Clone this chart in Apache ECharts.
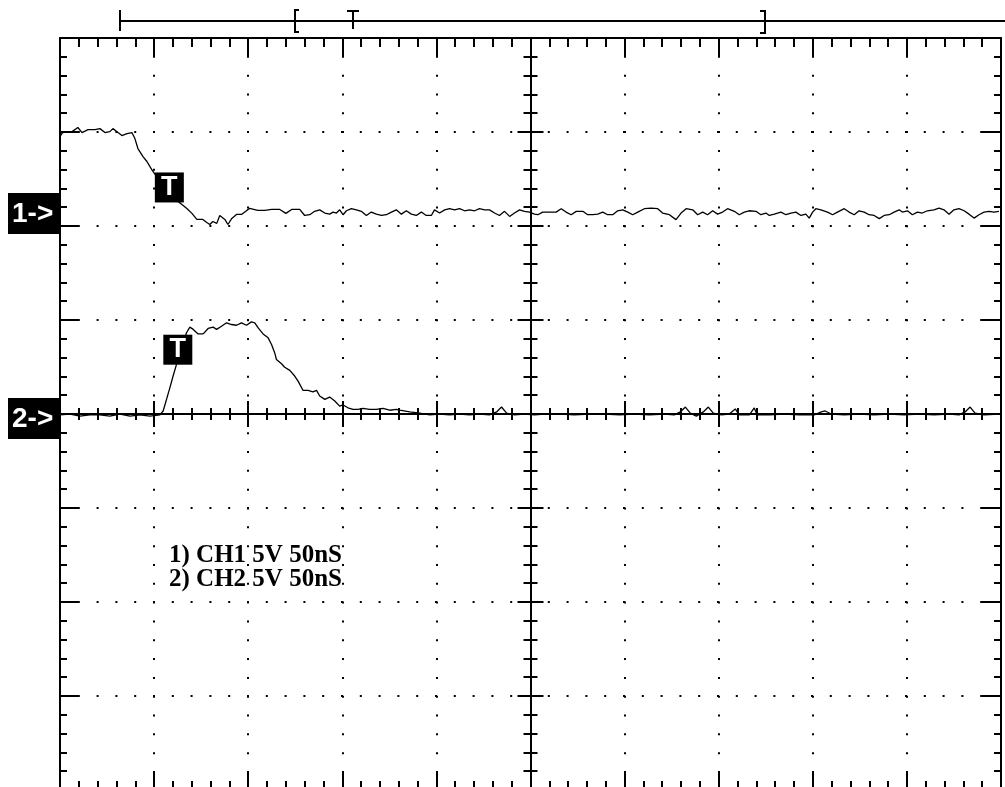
<!DOCTYPE html>
<html><head><meta charset="utf-8">
<script src="https://cdn.jsdelivr.net/npm/echarts@6/dist/echarts.min.js"></script>
<style>html,body{margin:0;padding:0;background:#fff}#c{width:1005px;height:787px}</style>
</head><body><div id="c"></div>
<script>
// time relative to screen centre (ns), 50 ns/div ; voltage relative to screen centre (V), 5 V/div
const timeRange = [-250, 250];
const voltRange = [-20, 20];
const timeDiv = 50;
const voltDiv = 5;

const ch1 = [[-250,14.76],[-248.9,14.93],[-247.4,15.02],[-243.6,15.02],[-240.5,15.24],[-238.3,14.97],[-235.1,15.13],[-231.4,15.13],[-228.8,15.18],[-226.1,14.97],[-223.5,15.02],[-221.9,15.18],[-219.2,14.97],[-217.1,14.81],[-214.4,14.91],[-211.8,14.97],[-210.2,14.65],[-208.6,14.12],[-205.9,13.69],[-203.8,13.43],[-202.2,13.16],[-200.6,12.90],[-196.9,12.37],[-191.6,11.73],[-187.4,11.31],[-185.2,11.14],[-182.6,10.93],[-179.9,10.67],[-177.3,10.35],[-174.1,10.35],[-172.0,10.19],[-170.4,10.08],[-168.8,10.24],[-166.7,10.14],[-165.1,10.56],[-162.4,10.35],[-160.8,10.08],[-158.7,10.40],[-156.1,10.62],[-153.4,10.62],[-150.7,10.83],[-149.2,10.94],[-144.9,10.83],[-141.2,10.83],[-137.5,10.88],[-133.2,10.88],[-130.0,10.67],[-126.9,10.88],[-122.6,10.88],
[-120.0,10.56],[-117.3,10.60],[-114.7,10.78],[-112.0,10.86],[-109.3,10.69],[-106.7,10.63],[-104.9,10.74],[-103.1,10.69],[-101.4,10.86],[-99.6,10.60],[-97.8,10.81],[-95.2,10.92],[-92.5,10.86],[-89.9,10.78],[-87.2,10.56],[-84.6,10.74],[-81.9,10.63],[-79.2,10.56],[-76.6,10.60],[-73.9,10.74],[-71.3,10.86],[-68.6,10.63],[-66.0,10.81],[-63.3,10.63],[-60.7,10.56],[-58.0,10.74],[-55.4,10.56],[-52.7,10.56],[-51.0,10.86],[-48.3,10.69],[-45.6,10.86],[-43.0,10.92],[-40.3,10.86],[-37.7,10.92],[-35.0,10.81],[-32.4,10.86],[-29.7,10.81],[-27.1,10.92],[-24.4,10.86],[-21.8,10.86],[-19.1,10.69],[-16.5,10.56],[-13.8,10.78],[-11.1,10.51],[-8.5,10.69],[-5.8,10.86],[-3.2,10.78],[-0.5,10.74],[2.1,10.63],
[3.9,10.60],[6.5,10.74],[10.1,10.74],[13.6,10.74],[16.3,10.92],[18.9,10.74],[21.6,10.60],[24.3,10.78],[27.8,10.78],[30.4,10.60],[33.1,10.60],[35.7,10.63],[38.4,10.74],[41.0,10.60],[43.7,10.60],[46.3,10.81],[49.0,10.86],[51.7,10.74],[54.3,10.60],[57.0,10.74],[60.5,10.92],[64.1,10.95],[67.6,10.92],[70.2,10.69],[73.8,10.60],[77.3,10.34],[80.0,10.69],[82.7,10.92],[86.2,10.86],[88.8,10.60],[91.5,10.74],[94.1,10.60],[96.8,10.81],[99.4,10.63],[102.1,10.74],[104.7,10.92],[108.3,10.78],[110.9,10.60],[113.6,10.74],[116.2,10.81],[119.8,10.78],[122.4,10.60],[125.1,10.69],
[126.9,10.56],[129.5,10.63],[133.1,10.74],[135.7,10.60],[138.4,10.69],[141.0,10.74],[143.7,10.56],[146.3,10.63],[148.1,10.42],[149.9,10.74],[151.6,10.92],[154.3,10.86],[157.8,10.74],[160.5,10.60],[163.1,10.74],[166.7,10.92],[169.3,10.74],[172.0,10.60],[174.6,10.81],[177.3,10.74],[179.9,10.60],[182.6,10.56],[185.3,10.39],[187.9,10.56],[190.6,10.60],[193.2,10.74],[195.9,10.86],[197.6,10.74],[200.3,10.81],[202.9,10.60],[205.6,10.74],[208.2,10.69],[210.9,10.81],[214.4,10.86],[217.1,10.95],[219.7,10.86],[222.4,10.63],[225.0,10.86],[227.7,10.92],[230.4,10.81],[233.0,10.63],[235.7,10.42],[238.3,10.60],[241.0,10.74],[243.6,10.78],[246.3,10.74],[248.9,10.78]];

const ch2 = [[-250,-0.05],[-244.7,0],[-239.4,-0.11],[-234.1,-0.05],[-228.8,-0.05],[-223.5,-0.11],[-218.2,0],[-212.8,-0.11],[-207.5,-0.05],[-202.2,-0.11],[-196.9,-0.05],[-195.2,0.16],[-193.4,0.78],[-191.6,1.40],[-189.9,2.02],[-188.1,2.64],[-185.8,3.34],[-182.8,4.32],[-181.0,4.62],[-179.2,4.50],[-176.6,4.26],[-173.9,4.26],[-171.3,4.55],[-168.6,4.62],[-166.8,4.50],[-164.2,4.67],[-161.5,4.85],[-158.9,4.76],[-156.2,4.72],[-153.6,4.85],[-150.9,4.72],[-148.3,4.90],[-146.5,4.85],[-144.7,4.58],[-142.1,4.26],[-139.4,4.05],[-137.6,3.70],[-135.9,3.25],[-135.0,2.90],[-132.3,2.67],[-130.6,2.49],[-127.9,2.32],[-125.3,2.02],[-123.5,1.75],[-120.9,1.26],[-118.2,1.26],[-115.6,1.18],[-113.7,1.26],[-112.0,0.96],[-109.3,0.78],[-106.7,0.90],[-104.0,0.69],[-101.4,0.42],[-99.6,0.48],[-97.0,0.33],[-94.3,0.25],[-91.7,0.25],[-89.0,0.30],[-85.5,0.25],[-81.9,0.25],[-78.4,0.30],[-74.8,0.20],[-71.3,0.25],[-69.5,0.21],[-64.2,0.11],[-58.9,0.05],[-53.6,-0.05],[-48.3,0],[-43.0,-0.05],[-37.7,0],[-32.4,-0.05],[-27.1,0],[-21.8,-0.05],[-18.0,0.11],[-15.4,0.37],[-12.7,0.05],[-8.5,-0.05],[-3.2,0],[2.1,-0.05],[7.4,0],[15.4,0],[23.4,-0.05],[31.3,0],[39.3,0],[47.3,-0.05],[55.2,0],[63.2,-0.05],[71.1,0],[76.4,-0.05],[79.6,0.11],[82.3,0.37],[84.9,0.05],[88.1,-0.11],[91.8,0.11],[94.5,0.37],[97.1,0.05],[101.4,-0.05],[105.6,0],[108.8,0.27],[110.9,-0.05],[116.3,-0.05],[118.9,0.32],[120.5,-0.05],[126.9,-0.05],[134.8,0],[142.8,-0.05],[150.8,-0.05],[154.5,0.11],[156.6,0.16],[159.8,0],[166.7,-0.05],[174.6,0],[182.6,-0.05],[190.6,0],[198.5,-0.05],[206.5,0],[214.4,-0.05],[222.4,0],[227.7,-0.05],[230.9,0.11],[233.6,0.37],[236.2,0.05],[241.0,-0.05],[249.0,0]];

const ch1Ground = 10.9;
const ch2Ground = 0;
const ch1Trigger = [-191.9, 12.05];
const ch2Trigger = [-187.4, 3.42];
const channelLabels = ['1->', '2->'];
const infoLines = ['1) CH1 5V 50nS', '2) CH2 5V 50nS'];

const K = '#000';
const chart = echarts.init(document.getElementById('c'), null, {renderer: 'canvas'});

function xAx(o) {
  return Object.assign({type: 'value', min: timeRange[0], max: timeRange[1], interval: timeDiv,
    axisLabel: {show: false}, splitLine: {show: false}}, o);
}
function yAx(o) {
  return Object.assign({type: 'value', min: voltRange[0], max: voltRange[1], interval: voltDiv,
    axisLabel: {show: false}, splitLine: {show: false}}, o);
}
const lineS = {color: K, width: 2};
const tk = (inside, len) => ({show: true, inside: inside, length: len, lineStyle: {color: K, width: 2}});
const mtk = (len) => ({show: true, splitNumber: 5, length: len, lineStyle: {color: K, width: 2}});
const trigLabel = {show: true, formatter: 'T', color: '#fff', fontSize: 27, fontWeight: 'bold', fontFamily: 'Liberation Sans'};

chart.setOption({
  animation: false,
  backgroundColor: '#fff',
  grid: {left: 60, top: 38, width: 941, height: 752, outerBoundsMode: 'none', containLabel: false},
  xAxis: [
    xAx({position: 'top', axisLine: {show: true, onZero: false, lineStyle: lineS}, axisTick: tk(true, 19), minorTick: mtk(9),
      splitLine: {show: true, lineStyle: {color: K, width: 2, type: [2, 16.82], dashOffset: 1, cap: 'butt'}}}),
    xAx({position: 'bottom', axisLine: {show: true, onZero: false, lineStyle: lineS}, axisTick: tk(true, 19), minorTick: mtk(9)}),
    xAx({position: 'bottom', axisLine: {show: true, onZero: true, onZeroAxisIndex: 0, lineStyle: lineS}, axisTick: tk(true, 13), minorTick: mtk(6)}),
    xAx({position: 'bottom', axisLine: {show: true, onZero: true, onZeroAxisIndex: 0, lineStyle: lineS}, axisTick: tk(false, 13), minorTick: mtk(6)})
  ],
  yAxis: [
    yAx({position: 'left', axisLine: {show: true, onZero: false, lineStyle: lineS}, axisTick: tk(true, 19), minorTick: mtk(7),
      splitLine: {show: true, lineStyle: {color: K, width: 2, type: [2, 16.8], dashOffset: 1, cap: 'butt'}}}),
    yAx({position: 'right', axisLine: {show: true, onZero: false, lineStyle: lineS}, axisTick: tk(true, 19), minorTick: mtk(7)}),
    yAx({position: 'left', axisLine: {show: true, onZero: true, onZeroAxisIndex: 0, lineStyle: lineS}, axisTick: tk(true, 13), minorTick: mtk(7)}),
    yAx({position: 'left', axisLine: {show: true, onZero: true, onZeroAxisIndex: 0, lineStyle: lineS}, axisTick: tk(false, 13), minorTick: mtk(7)})
  ],
  series: [
    {type: 'line', name: 'CH1', data: ch1, xAxisIndex: 0, yAxisIndex: 0, symbol: 'none', z: 3,
      lineStyle: {color: K, width: 1.3},
      markPoint: {symbol: 'rect', symbolSize: [29, 30], itemStyle: {color: K}, animation: false,
        label: trigLabel, data: [{coord: ch1Trigger}]}},
    {type: 'line', name: 'CH2', data: ch2, xAxisIndex: 0, yAxisIndex: 0, symbol: 'none', z: 3,
      lineStyle: {color: K, width: 1.3},
      markPoint: {symbol: 'rect', symbolSize: [29, 30], itemStyle: {color: K}, animation: false,
        label: trigLabel, data: [{coord: ch2Trigger}]}}
  ]
});

const p1 = chart.convertToPixel({gridIndex: 0}, [timeRange[0], ch1Ground]);
const p2 = chart.convertToPixel({gridIndex: 0}, [timeRange[0], ch2Ground]);
function chanLabel(txt, py) {
  return [
    {type: 'rect', shape: {x: 8, y: py - 16, width: 52, height: 41}, style: {fill: K}, z: 10},
    {type: 'text', x: 12, y: py + 5, style: {text: txt, fill: '#fff', font: 'bold 28px "Liberation Sans"', verticalAlign: 'middle', align: 'left'}, z: 11}
  ];
}
chart.setOption({
  graphic: [
    ...chanLabel(channelLabels[0], p1[1]),
    ...chanLabel(channelLabels[1], p2[1]),
    {type: 'line', shape: {x1: 120, y1: 21, x2: 1005, y2: 21}, style: {stroke: K, lineWidth: 2}},
    {type: 'line', shape: {x1: 120, y1: 10, x2: 120, y2: 31}, style: {stroke: K, lineWidth: 2}},
    {type: 'polyline', shape: {points: [[299, 10], [295, 10], [295, 32], [299, 32]]}, style: {stroke: K, lineWidth: 2, fill: null}},
    {type: 'line', shape: {x1: 347, y1: 11, x2: 359, y2: 11}, style: {stroke: K, lineWidth: 2}},
    {type: 'line', shape: {x1: 353, y1: 11, x2: 353, y2: 29}, style: {stroke: K, lineWidth: 2}},
    {type: 'polyline', shape: {points: [[760, 11], [765, 11], [765, 33], [760, 33]]}, style: {stroke: K, lineWidth: 2, fill: null}},
    {type: 'text', x: 169, y: 544, style: {text: infoLines.join('\n'), fill: K, font: 'bold 25px "Liberation Serif"', lineHeight: 24}, z: 5}
  ]
});
</script></body></html>
